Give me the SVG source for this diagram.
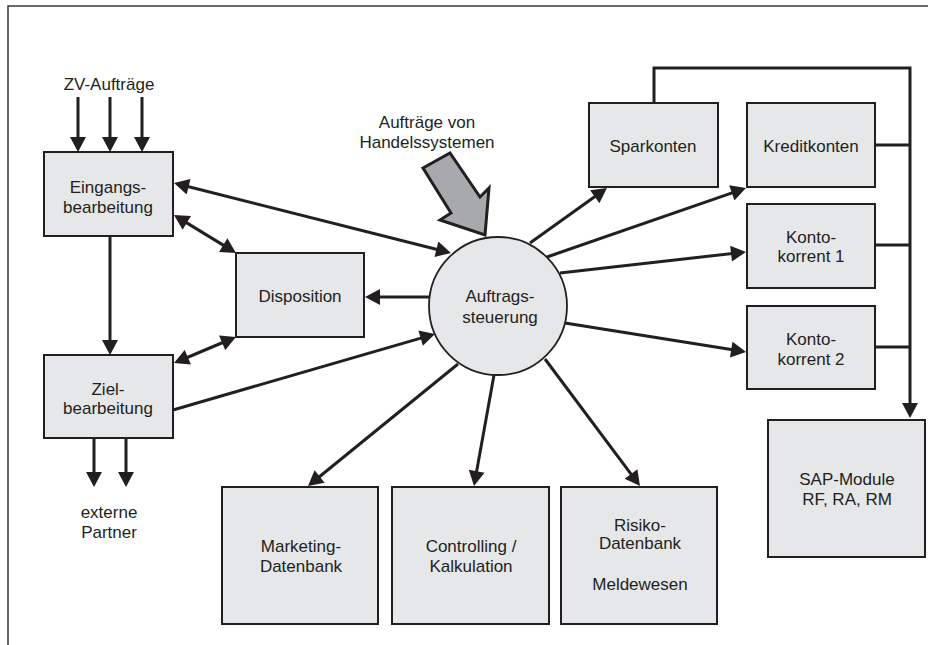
<svg xmlns="http://www.w3.org/2000/svg" width="928" height="645" viewBox="0 0 928 645">
  <style>
    .box { fill: #e6e7e8; stroke: #231f20; stroke-width: 2; }
    .lbl { font-family: "Liberation Sans", Arial, sans-serif; font-size: 17px; fill: #231f20; text-anchor: middle; }
    .con { fill: none; stroke: #231f20; stroke-width: 3; }
    .arr { marker-end: url(#head); }
    .both { marker-start: url(#head); marker-end: url(#head); }
    .frame { fill: none; stroke: #3a3a3a; stroke-width: 1.5; }
  </style>
  <defs>
    <marker id="head" markerUnits="userSpaceOnUse" markerWidth="16" markerHeight="16" refX="11" refY="8" orient="auto-start-reverse" viewBox="0 0 15 16">
      <path d="M0,0 L15,8 L0,16 z" fill="#231f20"/>
    </marker>
  </defs>

  <rect width="928" height="645" fill="#ffffff"/>
  <path class="frame" d="M8,645 V6 H928"/>

  <!-- free labels -->
  <text class="lbl" x="109" y="90">ZV-Aufträge</text>
  <text class="lbl" x="109" y="518">externe</text>
  <text class="lbl" x="109" y="538">Partner</text>

  <!-- incoming orders from trading systems -->
  <g id="handel">
    <text class="lbl" x="427" y="128">Aufträge von</text>
    <text class="lbl" x="427" y="148">Handelssystemen</text>
    <polygon points="423,168 450,153 480,197 489,188 485,235 440,220 451,213" fill="#a7a9ac" stroke="#231f20" stroke-width="3" stroke-linejoin="miter"/>
  </g>

  <g id="eingang">
    <rect class="box" x="44" y="152" width="129" height="84"/>
    <text class="lbl" x="108" y="193">Eingangs-</text>
    <text class="lbl" x="108" y="213">bearbeitung</text>
  </g>

  <g id="ziel">
    <rect class="box" x="44" y="355" width="129" height="83"/>
    <text class="lbl" x="108" y="395">Ziel-</text>
    <text class="lbl" x="108" y="414">bearbeitung</text>
  </g>

  <g id="disposition">
    <rect class="box" x="236" y="253" width="128" height="84"/>
    <text class="lbl" x="300" y="302">Disposition</text>
  </g>

  <g id="auftragssteuerung">
    <circle cx="498" cy="306" r="69" fill="#e6e7e8" stroke="#231f20" stroke-width="1.8"/>
    <text class="lbl" x="500" y="302">Auftrags-</text>
    <text class="lbl" x="500" y="323">steuerung</text>
  </g>

  <g id="sparkonten">
    <rect class="box" x="589" y="103" width="129" height="84"/>
    <text class="lbl" x="653" y="152">Sparkonten</text>
  </g>

  <g id="kreditkonten">
    <rect class="box" x="747" y="103" width="128" height="84"/>
    <text class="lbl" x="811" y="152">Kreditkonten</text>
  </g>

  <g id="kontokorrent1">
    <rect class="box" x="747" y="204" width="128" height="84"/>
    <text class="lbl" x="811" y="243">Konto-</text>
    <text class="lbl" x="811" y="262">korrent 1</text>
  </g>

  <g id="kontokorrent2">
    <rect class="box" x="747" y="306" width="128" height="83"/>
    <text class="lbl" x="811" y="345">Konto-</text>
    <text class="lbl" x="811" y="365">korrent 2</text>
  </g>

  <g id="sap">
    <rect class="box" x="768" y="420" width="157" height="137"/>
    <text class="lbl" x="847" y="485">SAP-Module</text>
    <text class="lbl" x="847" y="505">RF, RA, RM</text>
  </g>

  <g id="marketing">
    <rect class="box" x="222" y="487" width="156" height="137"/>
    <text class="lbl" x="301" y="552">Marketing-</text>
    <text class="lbl" x="301" y="572">Datenbank</text>
  </g>

  <g id="controlling">
    <rect class="box" x="392" y="487" width="157" height="137"/>
    <text class="lbl" x="471" y="552">Controlling /</text>
    <text class="lbl" x="471" y="572">Kalkulation</text>
  </g>

  <g id="risiko">
    <rect class="box" x="561" y="487" width="156" height="137"/>
    <text class="lbl" x="640" y="531">Risiko-</text>
    <text class="lbl" x="640" y="549">Datenbank</text>
    <text class="lbl" x="640" y="590">Meldewesen</text>
  </g>

  <g id="connectors">
    <!-- ZV orders into Eingangsbearbeitung -->
    <line class="con arr" x1="78" y1="97" x2="78" y2="148"/>
    <line class="con arr" x1="110" y1="97" x2="110" y2="148"/>
    <line class="con arr" x1="142" y1="97" x2="142" y2="148"/>
    <!-- Eingang to Ziel -->
    <line class="con arr" x1="110" y1="236" x2="110" y2="351"/>
    <!-- Ziel to external partners -->
    <line class="con arr" x1="94" y1="438" x2="94" y2="483"/>
    <line class="con arr" x1="126" y1="438" x2="126" y2="483"/>
    <!-- two-way links -->
    <line class="con both" x1="177.9" y1="184" x2="447.1" y2="252"/>
    <line class="con both" x1="177.4" y1="217.1" x2="232.6" y2="250.9"/>
    <line class="con both" x1="177.7" y1="361.5" x2="232.3" y2="338.5"/>
    <!-- Ziel to Auftragssteuerung -->
    <line class="con arr" x1="173" y1="410" x2="431.2" y2="335.1"/>
    <!-- Auftragssteuerung outputs -->
    <line class="con arr" x1="429" y1="297" x2="369" y2="297"/>
    <line class="con arr" x1="530" y1="243" x2="603.7" y2="190.3"/>
    <line class="con arr" x1="547" y1="257" x2="742.2" y2="189.3"/>
    <line class="con arr" x1="560" y1="273" x2="742" y2="252.4"/>
    <line class="con arr" x1="565" y1="323" x2="742.1" y2="351.3"/>
    <line class="con arr" x1="458" y1="364" x2="311.1" y2="483.5"/>
    <line class="con arr" x1="494" y1="375" x2="474.7" y2="482.1"/>
    <line class="con arr" x1="545" y1="359" x2="637.6" y2="482.8"/>
    <!-- account bus into SAP -->
    <polyline class="con arr" points="654,103 654,68 910,68 910,414"/>
    <line class="con" x1="875" y1="145" x2="910" y2="145"/>
    <line class="con" x1="875" y1="245" x2="910" y2="245"/>
    <line class="con" x1="875" y1="347" x2="910" y2="347"/>
  </g>
</svg>
